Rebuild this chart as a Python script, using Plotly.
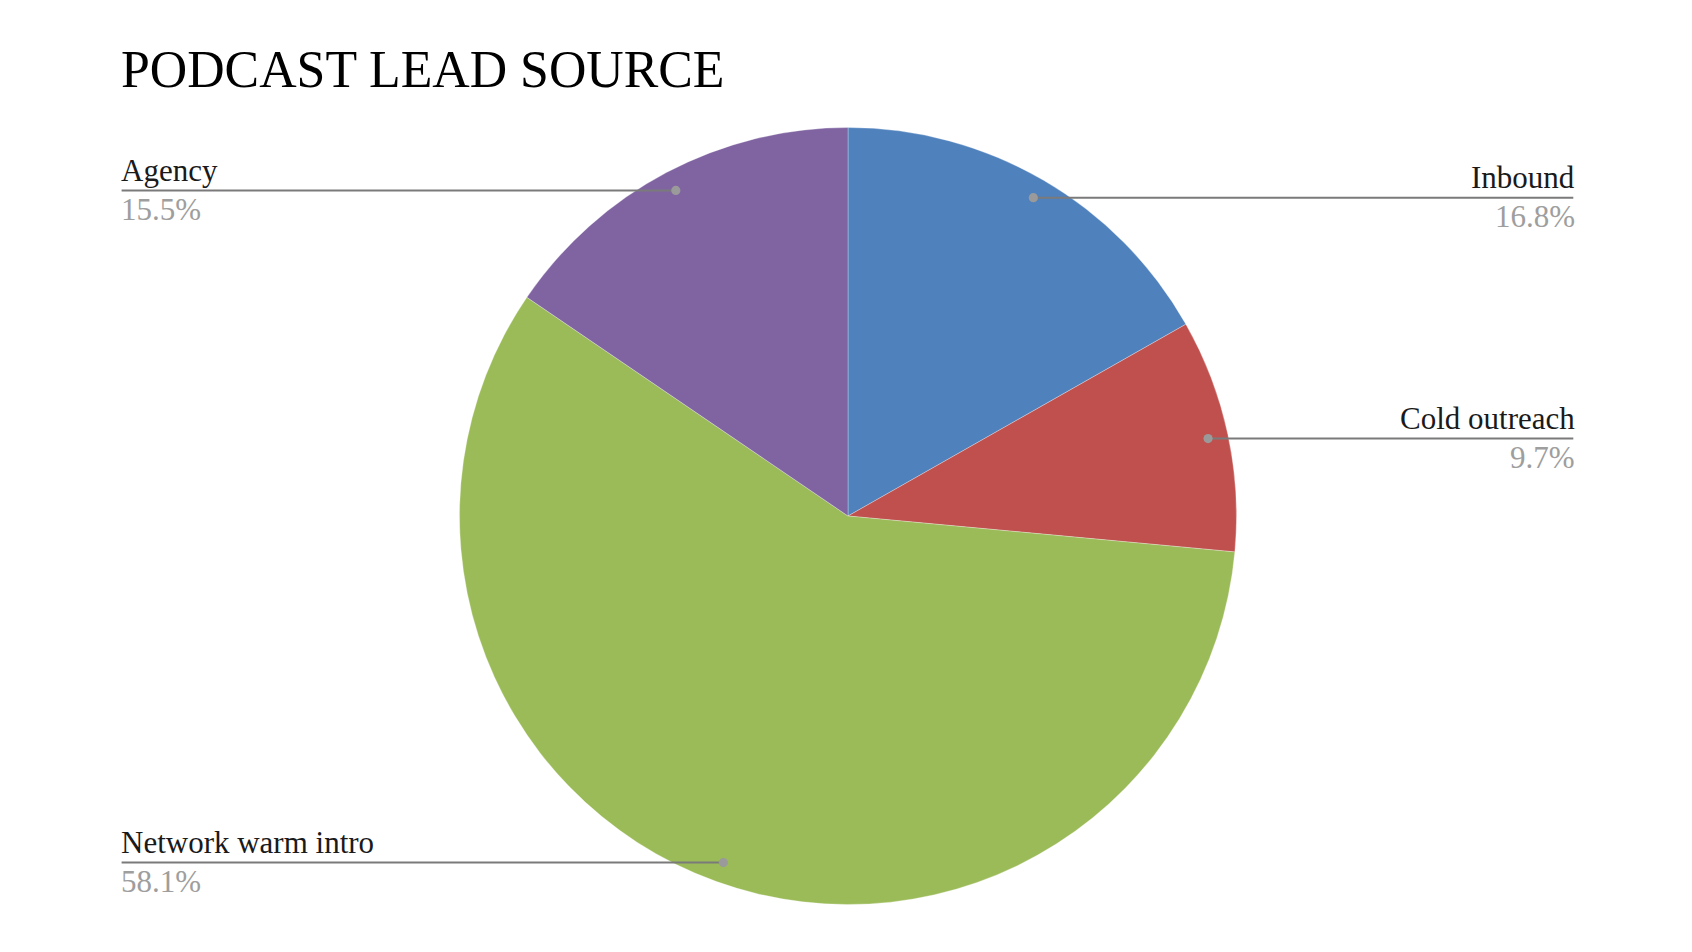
import math
import plotly.graph_objects as go

# ---- data ----
categories = ["Inbound", "Cold outreach", "Network warm intro", "Agency"]
values = [16.8, 9.7, 58.1, 15.5]
colors = ["#4F81BD", "#C0504D", "#9BBB59", "#8064A2"]
title_text = "PODCAST LEAD SOURCE"

# ---- layout (pixels) ----
W, H = 1692, 952
CX, CY, R = 848.0, 516.0, 388.5
DOT_RFRAC = 0.948                      # radial position of leader dots
LEFT_X, RIGHT_X = 121.6, 1573.3
FONT = "Liberation Serif, Times New Roman, serif"
LABEL_SIZE = 31


def px(x):
    return x / W


def py(y):
    return 1 - y / H


fig = go.Figure()
fig.add_trace(go.Pie(
    labels=categories,
    values=values,
    sort=False,
    direction="clockwise",
    rotation=0,
    marker=dict(colors=colors, line=dict(color="white", width=0.3)),
    textinfo="none",
    hoverinfo="label+percent",
    showlegend=False,
    domain=dict(x=[px(CX - R), px(CX + R)], y=[py(CY + R), py(CY - R)]),
))

total = sum(values)
shapes = []
annotations = []
cum = 0.0
for name, v in zip(categories, values):
    mid = (cum + v / 2) / total * 2 * math.pi
    cum += v
    side = 1 if math.sin(mid) > 0 else -1
    rr = DOT_RFRAC * R
    dot_x = CX + rr * math.sin(mid)
    ly = CY - rr * math.cos(mid)
    edge_x = RIGHT_X if side > 0 else LEFT_X
    shapes.append(dict(type="line", xref="paper", yref="paper",
                       x0=px(dot_x), x1=px(edge_x), y0=py(ly), y1=py(ly),
                       line=dict(color="#7a7a7a", width=2), layer="above"))
    rd = 4.6
    shapes.append(dict(type="circle", xref="paper", yref="paper",
                       x0=px(dot_x - rd), x1=px(dot_x + rd),
                       y0=py(ly + rd), y1=py(ly - rd),
                       fillcolor="#9a9a9a", line=dict(width=0), layer="above"))
    anchor = "right" if side > 0 else "left"
    ax = edge_x + 3.2 if side > 0 else edge_x - 2.6
    annotations.append(dict(xref="paper", yref="paper", x=px(ax), y=py(ly - 0.8),
                            xanchor=anchor, yanchor="bottom", showarrow=False,
                            text=name, font=dict(family=FONT, size=LABEL_SIZE, color="#1a1a1a")))
    annotations.append(dict(xref="paper", yref="paper", x=px(ax), y=py(ly - 0.4),
                            xanchor=anchor, yanchor="top", showarrow=False,
                            text=f"{v:.1f}%", font=dict(family=FONT, size=LABEL_SIZE, color="#9e9e9e")))

annotations.append(dict(xref="paper", yref="paper", x=px(119), y=py(100.5),
                        xanchor="left", yanchor="bottom", showarrow=False,
                        text=title_text, font=dict(family=FONT, size=51.8, color="#000000")))

fig.update_layout(
    width=W, height=H,
    margin=dict(l=0, r=0, t=0, b=0, pad=0),
    paper_bgcolor="white", plot_bgcolor="white",
    shapes=shapes, annotations=annotations,
    showlegend=False,
)

fig.write_html("out.html", config={"displayModeBar": False},
               post_script="document.body.style.margin='0';")
